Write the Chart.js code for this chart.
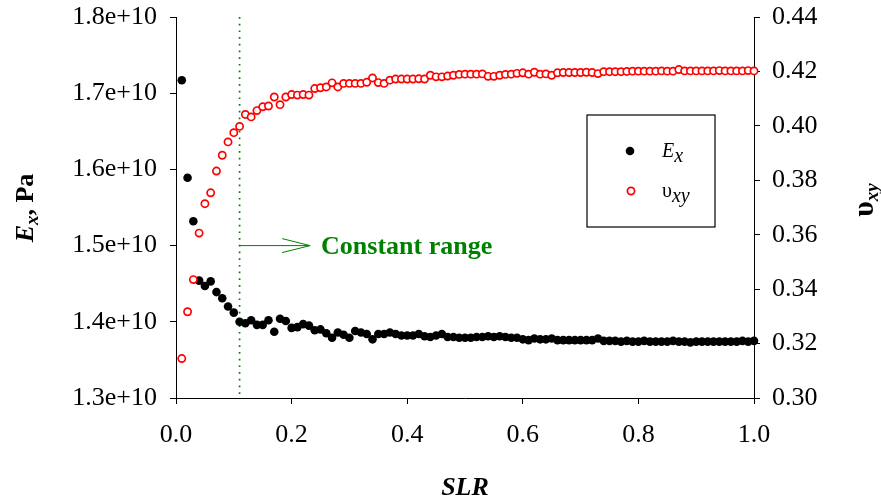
<!DOCTYPE html>
<html>
<head>
<meta charset="utf-8">
<script src="https://cdn.jsdelivr.net/npm/chart.js@4.4.1/dist/chart.umd.min.js"></script>
<style>
  body { margin: 0; background: #fff; }
  #wrap { width: 881px; height: 500px; }
</style>
</head>
<body>
<div id="wrap"><canvas id="slrChart" width="881" height="500"></canvas></div>
<script>
// SLR (eje x)
const slr = [
  0.01, 0.02, 0.03, 0.04, 0.05, 0.06, 0.07, 0.08, 0.09, 0.10,
  0.11, 0.12, 0.13, 0.14, 0.15, 0.16, 0.17, 0.18, 0.19, 0.20,
  0.21, 0.22, 0.23, 0.24, 0.25, 0.26, 0.27, 0.28, 0.29, 0.30,
  0.31, 0.32, 0.33, 0.34, 0.35, 0.36, 0.37, 0.38, 0.39, 0.40,
  0.41, 0.42, 0.43, 0.44, 0.45, 0.46, 0.47, 0.48, 0.49, 0.50,
  0.51, 0.52, 0.53, 0.54, 0.55, 0.56, 0.57, 0.58, 0.59, 0.60,
  0.61, 0.62, 0.63, 0.64, 0.65, 0.66, 0.67, 0.68, 0.69, 0.70,
  0.71, 0.72, 0.73, 0.74, 0.75, 0.76, 0.77, 0.78, 0.79, 0.80,
  0.81, 0.82, 0.83, 0.84, 0.85, 0.86, 0.87, 0.88, 0.89, 0.90,
  0.91, 0.92, 0.93, 0.94, 0.95, 0.96, 0.97, 0.98, 0.99, 1.00
];

// Ex en unidades de 1e10 Pa
const exValues = [
  1.717, 1.589, 1.532, 1.454, 1.447, 1.453, 1.439, 1.431, 1.420, 1.412,
  1.400, 1.398, 1.402, 1.396, 1.396, 1.402, 1.387, 1.404, 1.401, 1.392,
  1.393, 1.397, 1.395, 1.389, 1.390, 1.385, 1.379, 1.386, 1.383, 1.379,
  1.388, 1.386, 1.384, 1.377, 1.384, 1.384, 1.386, 1.384, 1.382, 1.382,
  1.382, 1.384, 1.381, 1.380, 1.382, 1.384, 1.380, 1.380, 1.379, 1.379,
  1.379, 1.380, 1.380, 1.381, 1.380, 1.381, 1.380, 1.379, 1.379, 1.377,
  1.376, 1.378, 1.377, 1.377, 1.378, 1.376, 1.376, 1.376, 1.376, 1.376,
  1.376, 1.376, 1.378, 1.375, 1.375, 1.375, 1.374, 1.375, 1.374, 1.374,
  1.375, 1.374, 1.374, 1.374, 1.374, 1.375, 1.374, 1.374, 1.373, 1.374,
  1.374, 1.374, 1.374, 1.374, 1.374, 1.374, 1.374, 1.375, 1.374, 1.375
];

// coeficiente de Poisson
const nuValues = [
  0.3145, 0.3317, 0.3435, 0.3606, 0.3714, 0.3754, 0.3834, 0.3892, 0.3941, 0.3975,
  0.3998, 0.4042, 0.4033, 0.4056, 0.4070, 0.4073, 0.4106, 0.4078, 0.4106, 0.4115,
  0.4113, 0.4115, 0.4113, 0.4137, 0.4140, 0.4143, 0.4158, 0.4143, 0.4156, 0.4156,
  0.4156, 0.4156, 0.4160, 0.4176, 0.4159, 0.4156, 0.4168, 0.4172, 0.4172, 0.4172,
  0.4172, 0.4173, 0.4172, 0.4186, 0.4180, 0.4180, 0.4183, 0.4186, 0.4189, 0.4190,
  0.4190, 0.4190, 0.4191, 0.4182, 0.4182, 0.4186, 0.4189, 0.4190, 0.4193, 0.4195,
  0.4190, 0.4197, 0.4190, 0.4191, 0.4186, 0.4195, 0.4196, 0.4196, 0.4196, 0.4196,
  0.4197, 0.4196, 0.4192, 0.4199, 0.4199, 0.4199, 0.4199, 0.4200, 0.4201, 0.4201,
  0.4201, 0.4201, 0.4201, 0.4202, 0.4201, 0.4201, 0.4207, 0.4202, 0.4202, 0.4202,
  0.4202, 0.4202, 0.4202, 0.4203, 0.4202, 0.4202, 0.4202, 0.4202, 0.4203, 0.4202
];

// Marca de rango constante
const constantStart = 0.11;
const arrowLevel = 1.5;
const arrowEnd = 0.232;
const arrowLabel = 'Constant range';

const SERIF = '"Liberation Serif", "Times New Roman", serif';

function toPoints(ys) {
    return slr.map((x, i) => ({ x: x, y: ys[i] }));
}

// dibuja texto con subíndices
function drawRich(ctx, parts, x, y, align) {
    let total = 0;
    parts.forEach(p => { ctx.font = p.font; total += ctx.measureText(p.text).width; });
    let cx = align === 'center' ? x - total / 2 : x;
    parts.forEach(p => {
        ctx.font = p.font;
        ctx.fillText(p.text, cx, y + (p.dy || 0));
        cx += ctx.measureText(p.text).width;
    });
}

const decorPlugin = {
    id: 'decor',
    beforeDatasetsDraw(chart) {
        const { ctx, chartArea, scales } = chart;
        const px = scales.x.getPixelForValue(constantStart);
        ctx.save();
        ctx.strokeStyle = '#008000';
        ctx.lineWidth = 1.7;
        ctx.setLineDash([1.7, 5]);
        ctx.beginPath();
        ctx.moveTo(px, chartArea.top);
        ctx.lineTo(px, chartArea.bottom);
        ctx.stroke();
        ctx.restore();
    },
    afterDraw(chart) {
        const { ctx, chartArea, scales } = chart;
        ctx.save();
        ctx.fillStyle = '#000';
        ctx.textBaseline = 'alphabetic';

        // flecha y texto
        const x0 = scales.x.getPixelForValue(constantStart);
        const x1 = scales.x.getPixelForValue(arrowEnd);
        const ay = scales.y.getPixelForValue(arrowLevel);
        ctx.strokeStyle = '#008000';
        ctx.lineWidth = 1;
        ctx.beginPath();
        ctx.moveTo(x0, ay);
        ctx.lineTo(x1, ay);
        ctx.moveTo(x1 - 28, ay - 7);
        ctx.lineTo(x1, ay);
        ctx.lineTo(x1 - 28, ay + 7);
        ctx.stroke();
        ctx.fillStyle = '#008000';
        ctx.font = 'bold 26px ' + SERIF;
        ctx.fillText(arrowLabel, x1 + 11, ay + 8);

        // leyenda
        const lx = chartArea.left + 411, ly = chartArea.top + 98;
        ctx.strokeStyle = '#000';
        ctx.lineWidth = 1.2;
        ctx.strokeRect(lx, ly, 128, 112);
        ctx.fillStyle = '#000';
        ctx.beginPath();
        ctx.arc(lx + 43, ly + 36, 4.3, 0, Math.PI * 2);
        ctx.fill();
        ctx.strokeStyle = '#ff0000';
        ctx.lineWidth = 1.7;
        ctx.beginPath();
        ctx.arc(lx + 44, ly + 76, 3.6, 0, Math.PI * 2);
        ctx.stroke();
        ctx.fillStyle = '#000';
        drawRich(ctx, [
            { text: 'E', font: 'italic 20px ' + SERIF },
            { text: 'x', font: 'italic 20px ' + SERIF, dy: 5 }
        ], lx + 75, ly + 42, 'left');
        drawRich(ctx, [
            { text: 'υ', font: '20px ' + SERIF },
            { text: 'xy', font: 'italic 20px ' + SERIF, dy: 5 }
        ], lx + 75, ly + 82, 'left');

        // titulos de ejes
        ctx.save();
        ctx.translate(33, 208);
        ctx.rotate(-Math.PI / 2);
        drawRich(ctx, [
            { text: 'E', font: 'italic bold 26px ' + SERIF },
            { text: 'x', font: 'italic bold 19px ' + SERIF, dy: 5 },
            { text: ', Pa', font: 'bold 26px ' + SERIF }
        ], 0, 0, 'center');
        ctx.restore();

        ctx.save();
        ctx.translate(873, 200);
        ctx.rotate(-Math.PI / 2);
        drawRich(ctx, [
            { text: 'υ', font: 'bold 30px ' + SERIF },
            { text: 'xy', font: 'italic bold 19px ' + SERIF, dy: 5 }
        ], 0, 0, 'center');
        ctx.restore();

        ctx.textAlign = 'center';
        ctx.font = 'italic bold 26px ' + SERIF;
        ctx.fillText('SLR', 465, 495);
        ctx.restore();
    }
};

const tickFont = { family: SERIF, size: 26 };
const axisLine = { display: true, color: '#000', width: 1 };
const tickMarks = { display: true, drawOnChartArea: false, drawTicks: true, tickLength: 6, color: '#000' };

function noPad(s) {
    s.paddingTop = 0;
    s.paddingBottom = 0;
    s.paddingLeft = 0;
    s.paddingRight = 0;
}

new Chart(document.getElementById('slrChart'), {
    type: 'scatter',
    data: {
        datasets: [
            {
                label: 'υxy',
                data: toPoints(nuValues),
                yAxisID: 'y2',
                pointRadius: 3.6,
                pointBorderWidth: 1.7,
                pointBorderColor: '#ff0000',
                pointBackgroundColor: '#ffffff',
                order: 0,
                clip: false
            },
            {
                label: 'Ex',
                data: toPoints(exValues),
                yAxisID: 'y',
                pointRadius: 4.3,
                pointBorderWidth: 0,
                pointBackgroundColor: '#000000',
                pointBorderColor: '#000000',
                order: 1,
                clip: false
            }
        ]
    },
    options: {
        responsive: false,
        animation: false,
        layout: { padding: { top: 17, left: 0, right: 0, bottom: 0 } },
        plugins: { legend: { display: false }, tooltip: { enabled: false } },
        scales: {
            x: {
                type: 'linear',
                min: 0, max: 1,
                border: axisLine,
                grid: tickMarks,
                ticks: {
                    stepSize: 0.2, color: '#000', font: tickFont, padding: 16,
                    maxRotation: 0,
                    callback: v => v.toFixed(1)
                },
                afterFit: s => { s.height = 102; noPad(s); }
            },
            y: {
                position: 'left',
                min: 1.3, max: 1.8,
                border: axisLine,
                grid: tickMarks,
                ticks: {
                    stepSize: 0.1, color: '#000', font: tickFont, padding: 13,
                    callback: v => v.toFixed(1) + 'e+10'
                },
                afterFit: s => { s.width = 176; noPad(s); }
            },
            y2: {
                position: 'right',
                min: 0.30, max: 0.44,
                border: axisLine,
                grid: tickMarks,
                ticks: {
                    stepSize: 0.02, color: '#000', font: tickFont, padding: 12,
                    callback: v => v.toFixed(2)
                },
                afterFit: s => { s.width = 127; noPad(s); }
            }
        }
    },
    plugins: [decorPlugin]
});
</script>
</body>
</html>
